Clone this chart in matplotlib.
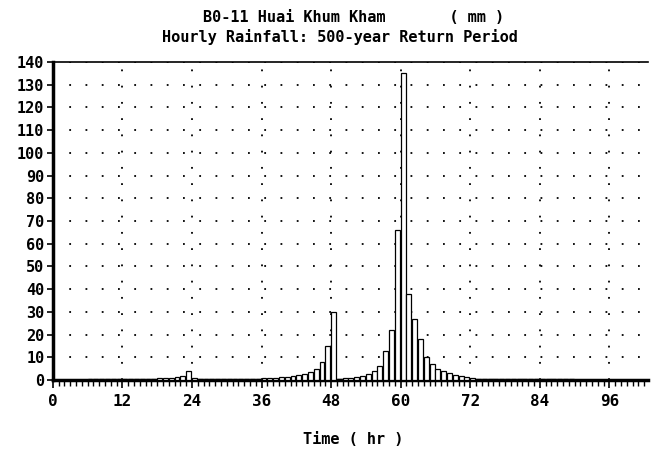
import numpy as np
import matplotlib
matplotlib.use("Agg")
import matplotlib.pyplot as plt
from matplotlib.ticker import MultipleLocator

# hourly rainfall (mm), one value per hour starting at t = 0
hours = np.arange(103)
rain = [
    0.2, 0.2, 0.2, 0.2, 0.2, 0.2, 0.3, 0.3, 0.3, 0.3, 0.3, 0.4,      # 0-11
    0.4, 0.4, 0.5, 0.5, 0.6, 0.6, 0.7, 0.8, 1.0, 1.3, 2.0, 4.0,      # 12-23
    1.0, 0.6, 0.5, 0.4, 0.4, 0.4, 0.4, 0.4, 0.4, 0.5, 0.5, 0.6,      # 24-35
    0.7, 0.8, 1.0, 1.2, 1.5, 1.8, 2.2, 2.8, 3.5, 5.0, 8.0, 15.0,     # 36-47
    30.0, 0.6, 0.8, 1.0, 1.3, 1.8, 2.6, 4.0, 6.4, 13.0, 22.0, 66.0,  # 48-59
    135.0, 38.0, 27.0, 18.0, 10.0, 7.0, 5.0, 4.0, 3.0, 2.2, 1.6, 1.2,  # 60-71
    0.8, 0.6, 0.4, 0.4, 0.3, 0.3, 0.3, 0.3, 0.3, 0.3, 0.3, 0.3,      # 72-83
    0.3, 0.3, 0.3, 0.3, 0.3, 0.3, 0.2, 0.2, 0.2, 0.2, 0.2, 0.2,      # 84-95
    0.2, 0.2, 0.2, 0.2, 0.2, 0.2, 0.2,                               # 96-102
]

xticks = [0, 12, 24, 36, 48, 60, 72, 84, 96]
yticks = list(range(0, 141, 10))

title1 = "B0-11 Huai Khum Kham       ( mm )"
title2 = "Hourly Rainfall: 500-year Return Period"
xlabel = "Time ( hr )"

font = dict(family="DejaVu Sans Mono", weight="bold")

fig = plt.figure(figsize=(6.51, 4.53), dpi=100)
ax = fig.add_axes([0.081, 0.161, 0.914, 0.702])

ax.bar(hours, rain, width=0.85, align="edge", facecolor="white",
       edgecolor="black", linewidth=0.9, zorder=3)

ax.set_xlim(0, 102.6)
ax.set_ylim(0, 140)
ax.set_xticks(xticks)
ax.set_yticks(yticks)
ax.xaxis.set_minor_locator(MultipleLocator(1))

ax.grid(True, which="major", color="black", linestyle=(0, (1, 8)),
        linewidth=1.3, zorder=1)

ax.tick_params(axis="x", which="major", direction="out", length=6, width=1.2,
               pad=4, labelsize=11.5)
ax.tick_params(axis="x", which="minor", direction="out", length=4, width=1.0)
ax.tick_params(axis="y", which="major", direction="out", length=4, width=1.2,
               pad=2, labelsize=11)
for lab in ax.get_xticklabels() + ax.get_yticklabels():
    lab.set_fontfamily(font["family"])
    lab.set_fontweight(font["weight"])

ax.spines["left"].set_linewidth(2.5)
ax.spines["bottom"].set_linewidth(2.5)
ax.spines["top"].set_linewidth(1.2)
ax.spines["right"].set_visible(False)

fig.text(0.543, 0.962, title1, ha="center", va="center", fontsize=11, **font)
fig.text(0.522, 0.918, title2, ha="center", va="center", fontsize=11, **font)
fig.text(0.543, 0.029, xlabel, ha="center", va="center", fontsize=11, **font)

fig.savefig("out.png", dpi=100, facecolor="white")
